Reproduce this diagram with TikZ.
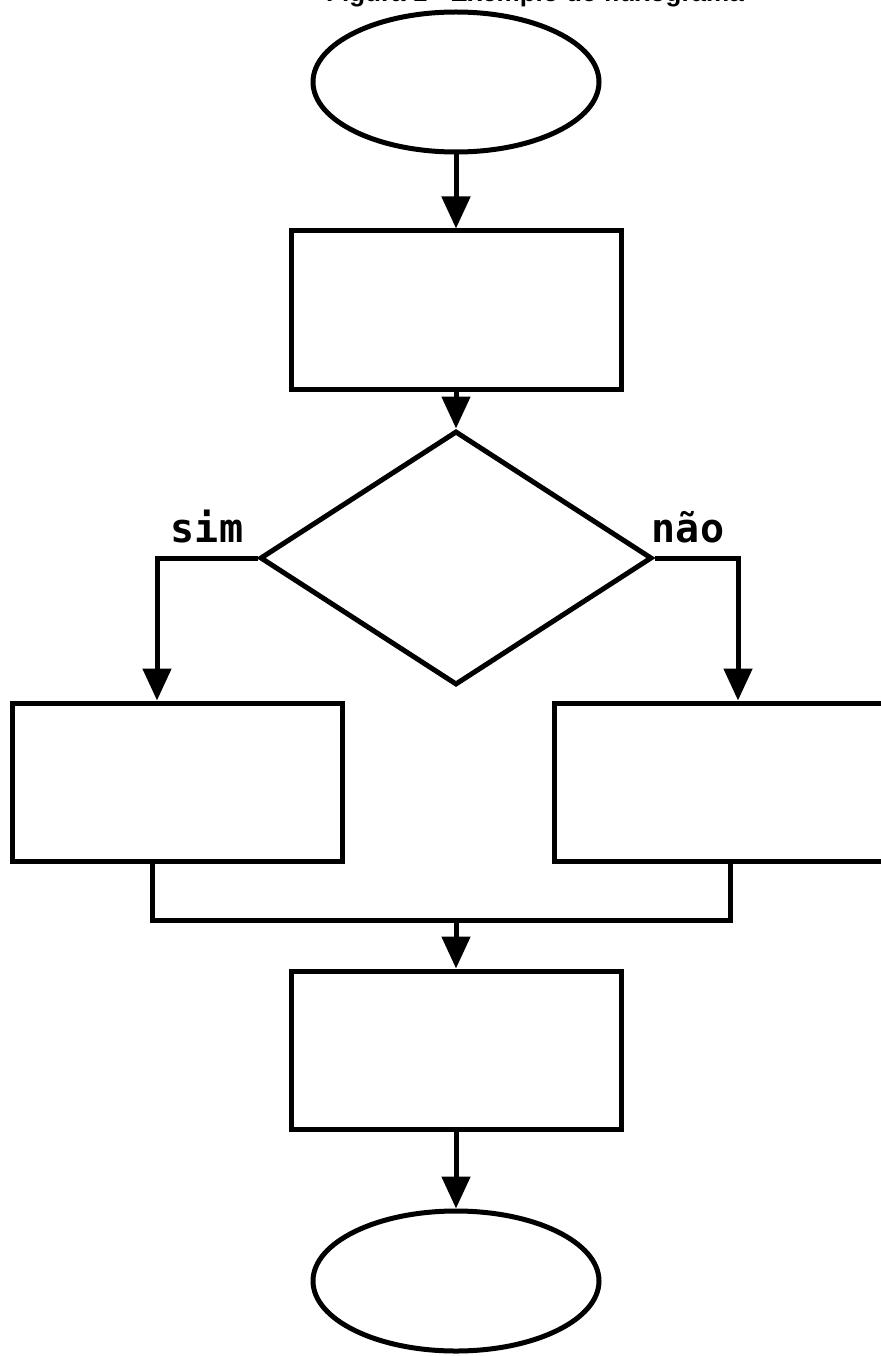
\documentclass[tikz,border=0pt]{standalone}
\usepackage{fontspec}
\setmainfont{Liberation Sans}
\newfontfamily\monob{DejaVu Sans Mono}
\usetikzlibrary{shapes.geometric,arrows.meta}
\begin{document}
\begin{tikzpicture}[x=1pt,y=-1pt,
  shapeline/.style={draw=black,line width=5pt},
  boxnode/.style={shapeline,rectangle,minimum width=330pt,minimum height=158pt,inner sep=0pt},
  ovalnode/.style={shapeline,ellipse,minimum width=286pt,minimum height=140pt,inner sep=0pt},
  decnode/.style={shapeline,diamond,inner sep=0pt},
  conn/.style={line width=5pt,-{Triangle[length=32pt,width=28pt]}},
  plain/.style={line width=5pt},
  lbl/.style={font=\monob\bfseries\fontsize{40}{44}\selectfont,inner sep=0pt,anchor=base}
]
\useasboundingbox (0,0) rectangle (880,1356);
\node[font=\bfseries\fontsize{26}{30}\selectfont,anchor=base,inner sep=0pt] (title) at (535,2) {Figura 1 - Exemplo de fluxograma};
\node[ovalnode] (start) at (456,82) {};
\node[boxnode] (b1) at (456,310) {};
\node[decnode,minimum width=392pt,minimum height=254pt] (dec) at (456,558) {};
\node[boxnode] (b2) at (177,782) {};
\node[boxnode,minimum width=332pt] (b3) at (720,782) {};
\node[boxnode] (b4) at (456,1050) {};
\node[ovalnode] (end) at (456,1281) {};
\node[lbl] (sim) at (207,542) {sim};
\node[lbl] (nao) at (688,542) {não};
\coordinate (lc) at (157,558);
\coordinate (rc) at (738,558);
\coordinate (m2) at (152,920);
\coordinate (m3) at (730,920);
\coordinate (mm) at (456,920);
\draw[conn] (start.south) -- (b1.north);
\draw[conn] (b1.south) -- (dec.north);
\draw[conn] (dec.west) -- (lc) -- (lc |- b2.north);
\draw[conn] (dec.east) -- (rc) -- (rc |- b3.north);
\draw[plain] (m2 |- b2.south) -- (m2) -- (m3) -- (m3 |- b3.south);
\draw[conn] (mm) -- (b4.north);
\draw[conn] (b4.south) -- (end.north);
\end{tikzpicture}
\end{document}
